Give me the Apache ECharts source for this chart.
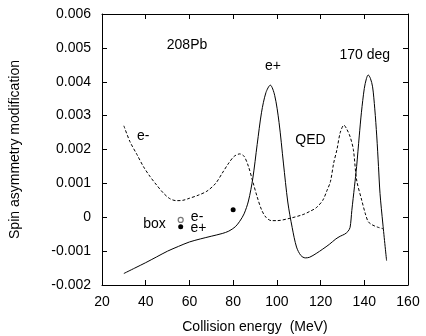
<!DOCTYPE html>
<html><head><meta charset="utf-8">
<script src="https://cdn.jsdelivr.net/npm/echarts@6/dist/echarts.min.js"></script>
<style>html,body{margin:0;padding:0;background:#fff}#c{width:426px;height:336px}</style>
</head><body><div id="c"></div>
<script>
// e+ (solid) curve
const ePlus = [[30,-0.00166],[35,-0.0015],[40,-0.00134],[45,-0.00117],[50,-0.001],[55,-0.00086],[60,-0.00073],[65,-0.00064],[70,-0.00056],[75,-0.00048],[78,-0.00041],[81,-0.00028],[83,-0.00012],[85,0.0001],[87,0.00048],[89,0.00115],[91,0.00215],[93,0.0031],[95,0.00368],[97,0.0039],[99,0.0036],[101,0.0028],[103,0.0016],[105,0.00045],[107,-0.0003],[109,-0.00088],[111,-0.00113],[113,-0.0012],[115,-0.00118],[118,-0.00107],[121,-0.00094],[124,-0.0008],[127,-0.00064],[129,-0.00056],[131,-0.0005],[132.5,-0.00042],[133.5,-0.0003],[134.3,0.0002],[135.5,0.0009],[136.5,0.0015],[137.7,0.0024],[138.7,0.0031],[140,0.0038],[141,0.0041],[141.8,0.0042],[142.8,0.0041],[143.8,0.00385],[144.8,0.0032],[145.7,0.0024],[146.5,0.0015],[147.2,0.0007],[148.5,-0.0002],[150.2,-0.00128]];
// e- (dashed) curve
const eMinus = [[30,0.0027],[32.8,0.00223],[36,0.00185],[39,0.00149],[42,0.0012],[45,0.00095],[48,0.00072],[51,0.00055],[54,0.00049],[57,0.0005],[60,0.00056],[64,0.00065],[68,0.00077],[72,0.001],[75,0.0013],[78,0.0016],[80.5,0.0018],[83,0.00187],[85,0.0018],[87,0.0015],[89,0.00105],[91,0.0006],[93,0.00022],[95,0.0],[97.5,-0.0001],[100,-0.0001],[106,-0.00003],[112,0.00008],[115,0.00017],[118,0.00028],[121,0.0005],[123,0.0008],[124.5,0.00105],[126,0.0016],[127.5,0.002],[129,0.0025],[130.7,0.00272],[132,0.0026],[133.5,0.00238],[135,0.002],[136.5,0.0011],[138.8,0.00051],[140.5,0.0001],[141.8,-0.00013],[143.5,-0.00022],[146,-0.00029],[148.7,-0.00034]];
// box points
const boxEMinus = [[56,-0.00008]];
const boxEPlus = [[56,-0.00028],[80,0.00022]];
// annotations: text, x, y
const notes = [["208Pb",58.9,0.00508],["e+",98.2,0.00446],["170 deg",140.2,0.00479],["e-",38.9,0.00238],["QED",115.4,0.00228],["box",44,-0.0002],["e-",63.5,0.0],["e+",64.1,-0.00032]];
const xTicks = [20,40,60,80,100,120,140,160];
const yTicks = [-0.002,-0.001,0,0.001,0.002,0.003,0.004,0.005,0.006];

const FONT = 'Liberation Sans';
const chart = echarts.init(document.getElementById('c'), null, {renderer:'canvas'});
const fmtY = v => { const r = Math.round(v*1000)/1000; return r === 0 ? '0' : r.toFixed(3); };
const axisCommon = () => ({
  axisLine:{show:true,onZero:false,lineStyle:{color:'#000',width:1}},
  axisTick:{show:true,inside:true,length:5,lineStyle:{color:'#000'}},
  splitLine:{show:false}
});
chart.setOption({
  animation:false,
  backgroundColor:'#fff',
  grid:{left:102,right:18,top:14,bottom:51,show:false,containLabel:false,outerBoundsMode:'none'},
  xAxis:[
    Object.assign({type:'value',min:xTicks[0],max:xTicks[xTicks.length-1],interval:20,position:'bottom',
      name:'Collision energy  (MeV)',nameLocation:'middle',nameGap:35,
      nameTextStyle:{fontFamily:FONT,fontSize:14,color:'#000'},
      axisLabel:{fontFamily:FONT,fontSize:14,color:'#000',margin:10}},axisCommon()),
    Object.assign({type:'value',min:20,max:160,interval:20,position:'top',axisLabel:{show:false}},axisCommon())
  ],
  yAxis:[
    Object.assign({type:'value',min:yTicks[0],max:yTicks[yTicks.length-1],interval:0.001,position:'left',
      name:'Spin asymmetry modification',nameLocation:'middle',nameGap:80,
      nameTextStyle:{fontFamily:FONT,fontSize:14,color:'#000'},
      axisLabel:{fontFamily:FONT,fontSize:14,color:'#000',margin:11,formatter:fmtY}},axisCommon()),
    Object.assign({type:'value',min:-0.002,max:0.006,interval:0.001,position:'right',axisLabel:{show:false}},axisCommon())
  ],
  series:[
    {type:'line',data:ePlus,smooth:0.3,showSymbol:false,lineStyle:{color:'#000',width:1},silent:true},
    {type:'line',data:eMinus,smooth:0.3,showSymbol:false,lineStyle:{color:'#000',width:1,type:[3,2]},silent:true},
    {type:'scatter',data:boxEMinus,symbol:'circle',symbolSize:5,z:5,itemStyle:{color:'#fff',borderColor:'#777',borderWidth:1.2,opacity:1}},
    {type:'scatter',data:boxEPlus,symbol:'circle',symbolSize:5,z:5,itemStyle:{color:'#000',opacity:1}},
    {type:'scatter',symbolSize:1,silent:true,itemStyle:{opacity:0},
      data:notes.map(a => ({value:[a[1],a[2]], label:{formatter:a[0]}})),
      label:{show:true,position:'inside',color:'#000',fontFamily:FONT,fontSize:14,opacity:1}}
  ]
});
</script></body></html>
